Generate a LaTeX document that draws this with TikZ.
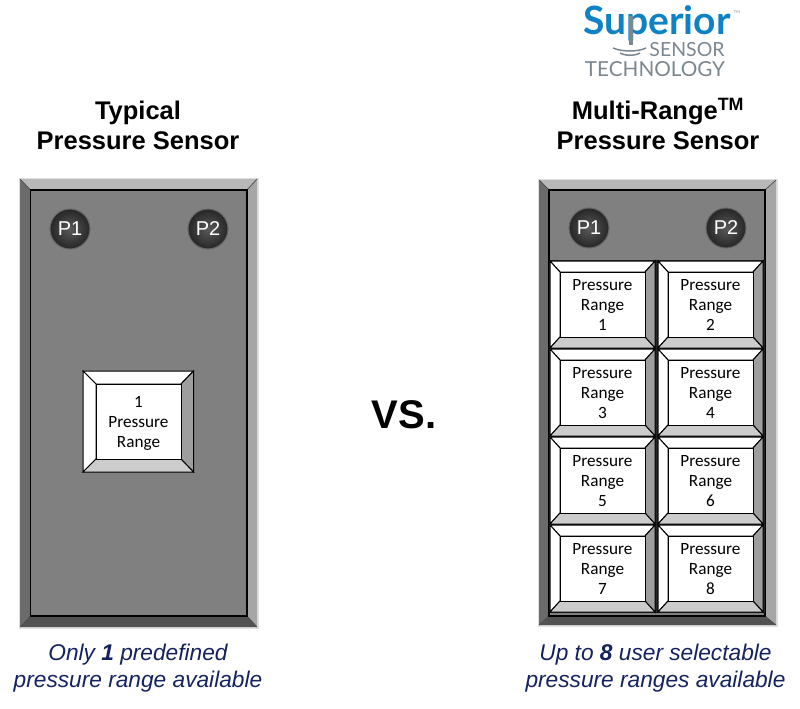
\documentclass[tikz,border=0pt]{standalone}
\usepackage{fontspec}
\setmainfont{Liberation Sans}
\newfontfamily\keyfont{Carlito}
\newfontfamily\logofont{Lato}
\definecolor{navy}{HTML}{14235F}
\definecolor{face}{HTML}{808080}
\definecolor{logoblue}{HTML}{0F82C5}
\definecolor{logogray}{HTML}{7B8790}
\tikzset{
    heading/.style={align=center,font=\fontsize{25.5}{30}\selectfont\bfseries},
    caption/.style={align=center,text=navy,font=\fontsize{22.7}{27.5}\selectfont\itshape},
    keytext/.style={align=center,font=\keyfont\fontsize{17.2}{20.3}\selectfont},
    port/.style={circle,draw=black!60,line width=1pt,minimum size=40pt,inner sep=0pt,inner color=black!65,outer color=black!85,text=white,font=\fontsize{20}{20}\selectfont},
    bevel/.style={draw=black,line width=1pt},
    frameline/.style={draw=black,line width=1.3pt},
    corner/.style={draw=black!70,line width=0.7pt},
}
% outer corners, inner corners, then colours top, left, right, bottom, centre
\newcommand{\bevelbox}[9]{
    \coordinate (o1) at (#1);
    \coordinate (o2) at (#2);
    \coordinate (i1) at (#3);
    \coordinate (i2) at (#4);
    \draw [bevel,fill=#5] (o1) -- (o1-|o2) -- (i1-|i2) -- (i1) -- cycle;
    \draw [bevel,fill=#6] (o1) -- (i1) -- (i1|-i2) -- (o1|-o2) -- cycle;
    \draw [bevel,fill=#7] (o1-|o2) -- (i1-|i2) -- (i2) -- (o2) -- cycle;
    \draw [bevel,fill=#8] (o1|-o2) -- (i1|-i2) -- (i2) -- (o2) -- cycle;
    \draw [bevel,fill=#9] (i1) rectangle (i2);
}
\begin{document}
\begin{tikzpicture}[x=1pt,y=-1pt]
    \useasboundingbox (0,0) rectangle (800,709);
    % logo
    \node [inner sep=0pt,text=logoblue,font=\logofont\fontsize{39}{39}\selectfont\bfseries] (superior) at (657,23) {Superior};
    \node [inner sep=0pt,text=logogray,font=\logofont\fontsize{4}{4}\selectfont] (tm) at (737,12) {TM};
    \node [inner sep=0pt,text=logogray,font=\logofont\fontsize{19.5}{19.5}\selectfont] (sensor) at (687,50) {SENSOR};
    \node [inner sep=0pt,text=logogray,font=\logofont\fontsize{20.7}{20.7}\selectfont] (technology) at (655,69) {TECHNOLOGY};
    \coordinate (stemtop) at (631,16);
    \coordinate (stemend) at (631,45);
    \draw [logogray,line width=3.5pt] (stemtop) -- (stemend);
    \draw [logogray,line width=1.5pt] (613,48) .. controls (622,52) and (638,52) .. (646,48);
    \draw [logogray,line width=1.5pt] (620,53) .. controls (625,56) and (635,56) .. (640,53);
    % headings
    \node [heading] (typical) at (138,125.5) {Typical\\Pressure Sensor};
    \node [heading] (multi) at (658,125.5) {Multi-Range\smash{\textsuperscript{TM}}\\Pressure Sensor};
    \node [font=\fontsize{40}{40}\selectfont\bfseries] (vs) at (404,415) {VS.};
    % left sensor
    \fill [black!12] (18.5,177.5) rectangle (258.5,628.5);
    \begin{scope}[bevel/.style={draw=none}]
        \bevelbox{20,179}{257,627}{30.5,190}{247,616}{black!28}{black!58}{black!35}{black!68}{face}
    \end{scope}
    \draw [corner] (20,179) -- (30.5,190) (257,179) -- (247,190) (20,627) -- (30.5,616) (257,627) -- (247,616);
    \draw [frameline] (30.5,190) rectangle (247,616);
    \node [port] (lp1) at (70,229) {P1};
    \node [port] (lp2) at (208,229) {P2};
    \bevelbox{83,371}{193.5,472}{96,384}{181,459}{white}{white}{black!38}{black!20}{white}
    \node [keytext] (lkey) at (138.5,423.5) {1\\Pressure\\Range};
    % right sensor
    \fill [black!12] (537.5,178.5) rectangle (777.5,626.5);
    \begin{scope}[bevel/.style={draw=none}]
        \bevelbox{539,180}{776,625}{549,190}{765,616}{black!28}{black!58}{black!35}{black!68}{face}
    \end{scope}
    \draw [corner] (539,180) -- (549,190) (776,180) -- (765,190) (539,625) -- (549,616) (776,625) -- (765,616);
    \draw [frameline] (549,190) rectangle (765,616);
    \node [port] (rp1) at (589,228) {P1};
    \node [port] (rp2) at (726,228) {P2};
    \fill [black!85] (549,260) rectangle (765,613);
    \foreach \n/\x/\y in {1/550/261,2/658/261,3/550/349,4/658/349,5/550/437,6/658/437,7/550/525,8/658/525} {
        \bevelbox{\x,\y}{\x+105,\y+87}{\x+10,\y+11}{\x+95,\y+76}{white}{white}{black!38}{black!20}{white}
        \node [keytext] (key\n) at (\x+52.5,\y+44) {Pressure\\Range\\\n};
    }
    % captions
    \node [caption] (lcap) at (138,668) {Only \textbf{1} predefined\\pressure range available};
    \node [caption] (rcap) at (655.5,668) {Up to \textbf{8} user selectable\\pressure ranges available};
\end{tikzpicture}
\end{document}
